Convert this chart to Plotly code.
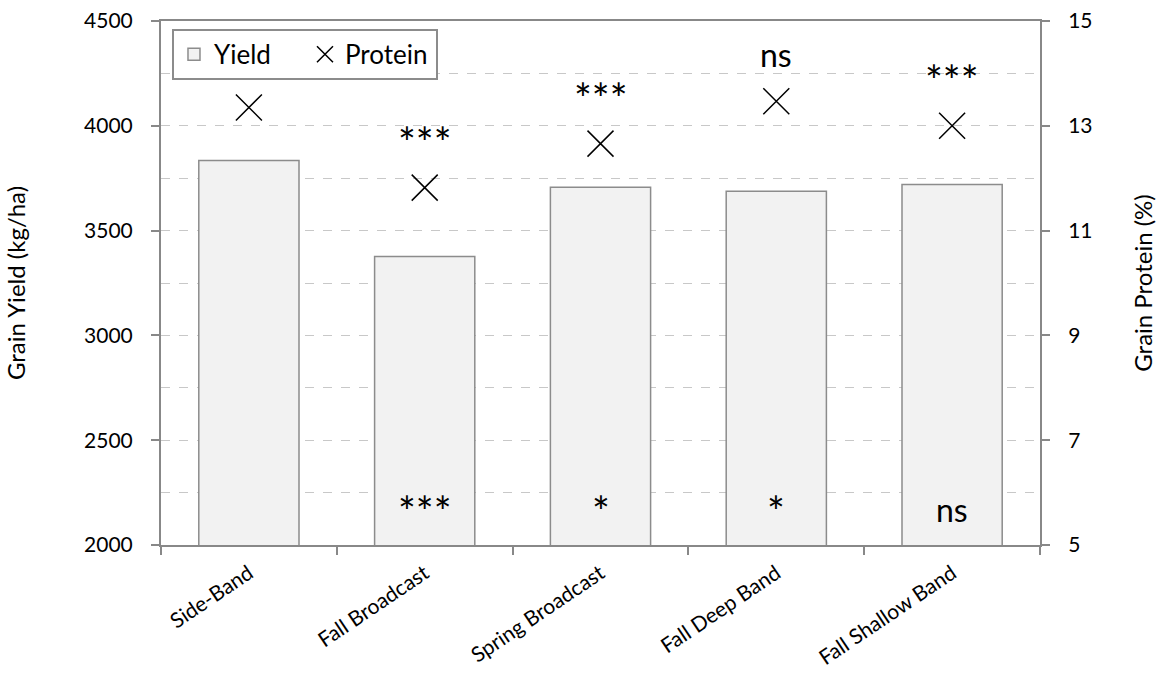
import plotly.graph_objects as go

categories = ["Side-Band", "Fall Broadcast", "Spring Broadcast", "Fall Deep Band", "Fall Shallow Band"]
yield_kg_ha = [3835, 3377, 3707, 3688, 3720]
protein_pct = [13.35, 11.82, 12.66, 13.47, 13.0]
protein_sig = ["", "***", "***", "ns", "***"]
yield_sig = ["", "***", "*", "*", "ns"]

FONT = "Lato"
AXIS_COLOR = "#888888"
GRID_COLOR = "#c8c8c8"

fig = go.Figure()
fig.add_trace(go.Bar(
    x=categories, y=yield_kg_ha, name="Yield",
    marker=dict(color="#f2f2f2", line=dict(color="#8c8c8c", width=1.5)),
    yaxis="y",
))
fig.add_trace(go.Scatter(
    x=categories, y=protein_pct, name="Protein", mode="markers",
    marker=dict(symbol="x-thin-open", size=26, color="black",
                line=dict(color="black", width=1.5)),
    yaxis="y2",
))

annotations = []
for c, p, s in zip(categories, protein_pct, protein_sig):
    if s:
        is_ns = s == "ns"
        annotations.append(dict(
            x=c, y=p, xref="x", yref="y2", text=s, showarrow=False,
            yshift=47 if is_ns else 46,
            font=dict(family=FONT, size=32 if is_ns else 42, color="black"),
        ))
for c, s in zip(categories, yield_sig):
    if s:
        is_ns = s == "ns"
        annotations.append(dict(
            x=c, y=2200, xref="x", yref="y", text=s, showarrow=False,
            yshift=-6 if is_ns else -8,
            font=dict(family=FONT, size=32 if is_ns else 42, color="black"),
        ))

fig.update_layout(
    width=1160, height=673,
    margin=dict(l=161, r=120, t=21, b=128),
    paper_bgcolor="white", plot_bgcolor="white",
    font=dict(family=FONT, color="black"),
    bargap=0.43,
    showlegend=True,
    legend=dict(
        orientation="h", x=0.0125, y=0.985, xanchor="left", yanchor="top",
        bordercolor="#8c8c8c", borderwidth=2, bgcolor="white",
        font=dict(family=FONT, size=26, color="black"),
        entrywidth=86, entrywidthmode="pixels",
    ),
    xaxis=dict(
        type="category", tickson="boundaries", ticks="outside", ticklen=8,
        tickcolor=AXIS_COLOR, tickwidth=1.5,
        showline=True, linecolor=AXIS_COLOR, linewidth=2, mirror=True,
        tickangle=-34, tickfont=dict(family=FONT, size=21, color="black"),
        ticklabelstandoff=6,
        showgrid=False, automargin=False,
    ),
    yaxis=dict(
        range=[2000, 4500], dtick=500, tick0=2000,
        ticks="outside", ticklen=8, tickcolor=AXIS_COLOR, tickwidth=1.5,
        showline=True, linecolor=AXIS_COLOR, linewidth=2,
        showgrid=True, gridcolor=GRID_COLOR, griddash="dash", gridwidth=1,
        minor=dict(dtick=250, showgrid=True, gridcolor=GRID_COLOR, griddash="dash", ticks=""),
        tickfont=dict(family=FONT, size=21, color="black"),
        ticklabelstandoff=14,
        title=dict(text="Grain Yield (kg/ha)", standoff=52,
                   font=dict(family=FONT, size=24, color="black")),
        zeroline=False, automargin=False,
    ),
    yaxis2=dict(
        range=[5, 15], dtick=2, tick0=5, overlaying="y", side="right",
        ticks="outside", ticklen=8, tickcolor=AXIS_COLOR, tickwidth=1.5,
        showline=True, linecolor=AXIS_COLOR, linewidth=2,
        showgrid=False, zeroline=False,
        tickfont=dict(family=FONT, size=21, color="black"),
        ticklabelstandoff=14,
        title=dict(text="Grain Protein (%)", standoff=44,
                   font=dict(family=FONT, size=24, color="black")),
        automargin=False,
    ),
    annotations=annotations,
)

fig.write_html("out.html")
